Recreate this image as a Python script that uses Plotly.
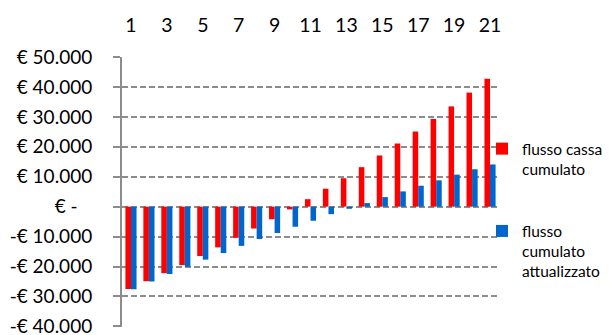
import plotly.graph_objects as go

periods = list(range(1, 22))
flusso_cassa_cumulato = [-27500, -24900, -22200, -19500, -16500, -13600, -10400, -7300, -4200, -900,
                         2500, 6000, 9500, 13200, 17100, 21100, 25100, 29300, 33500, 38100, 42700]
flusso_cumulato_attualizzato = [-27600, -25000, -22500, -20100, -17700, -15500, -13100, -10800, -8800, -6700,
                                -4700, -2500, -700, 1200, 3200, 5100, 7000, 8800, 10700, 12500, 14100]
y_tick_values = [50000, 40000, 30000, 20000, 10000, 0, -10000, -20000, -30000, -40000]
y_tick_labels = ["€ 50.000", "€ 40.000", "€ 30.000", "€ 20.000", "€ 10.000", "€ -\u00a0\u00a0\u00a0",
                 "-€ 10.000", "-€ 20.000", "-€ 30.000", "-€ 40.000"]
x_tick_values = periods[::2]
series_names = ["flusso cassa<br>cumulato", "flusso<br>cumulato<br>attualizzato"]

FONT = "Lato, Carlito, Calibri, sans-serif"
GRAY = "#8c8c8c"
y_min, y_max = -40200, 50000
zero_pos = (0 - y_min) / (y_max - y_min)

fig = go.Figure()
fig.add_trace(go.Bar(x=periods, y=flusso_cassa_cumulato, name=series_names[0],
                     marker=dict(color="#FF0000", line=dict(width=0)),
                     legendgroup="a"))
fig.add_trace(go.Bar(x=periods, y=flusso_cumulato_attualizzato, name=series_names[1],
                     marker=dict(color="#0066CC", line=dict(width=0)),
                     legendgroup="b"))

# the page body has an 8px default margin, so the figure is sized to fit the window
fig.update_layout(
    width=602, height=327,
    margin=dict(l=114, r=111, t=49, b=8, autoexpand=False),
    paper_bgcolor="white", plot_bgcolor="white",
    barmode="group", bargap=0.38, bargroupgap=0,
    font=dict(family=FONT, size=19, color="black"),
    showlegend=True,
    legend=dict(x=0.9549, xanchor="left", y=0.722, yanchor="top",
                font=dict(family=FONT, size=15.5, color="black"),
                valign="top", tracegroupgap=39, traceorder="grouped",
                bgcolor="rgba(0,0,0,0)", borderwidth=0),
    xaxis=dict(range=[0.5, 21.5], side="top", tickmode="array", tickvals=x_tick_values,
               showgrid=False, showline=False, zeroline=False, ticks="", automargin=False,
               ticklabelstandoff=20, tickfont=dict(family=FONT, size=19.5)),
    xaxis2=dict(range=[0.5, 21.5], overlaying="x", anchor="free", position=zero_pos,
                side="bottom", showline=True, linecolor=GRAY, linewidth=2, automargin=False,
                tickmode="array", tickvals=[p - 0.5 for p in periods] + [21.5],
                ticks="outside", ticklen=6, tickwidth=2, tickcolor=GRAY,
                showticklabels=False, showgrid=False, zeroline=False),
    yaxis=dict(range=[y_min, y_max], tickmode="array", tickvals=y_tick_values, ticktext=y_tick_labels,
               showgrid=True, gridcolor=GRAY, gridwidth=2, griddash="6px,3px", automargin=False,
               showline=True, linecolor=GRAY, linewidth=2, zeroline=False, ticklabeloverflow="allow",
               ticks="outside", ticklen=7, tickwidth=2, tickcolor=GRAY,
               ticklabelstandoff=17, tickfont=dict(family=FONT, size=19)),
)

fig.write_html("out.html")
